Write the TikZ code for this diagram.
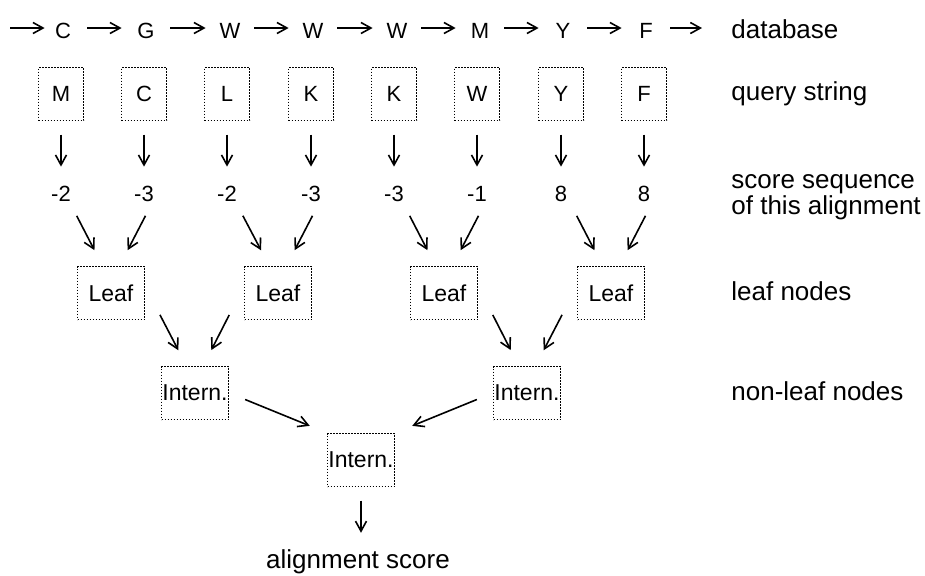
\documentclass[tikz,border=0pt]{standalone}
\usepackage{fontspec}
\setmainfont{Liberation Sans}
\usetikzlibrary{arrows.meta}

\begin{document}
\begin{tikzpicture}[x=0.5pt, y=-0.5pt,
    dbletter/.style={inner sep=0pt, minimum width=24pt, text height=10pt, text depth=0pt, font=\fontsize{11}{13}\selectfont},
    qbox/.style={draw, dash pattern=on 0.7pt off 0.8pt, line width=0.7pt, minimum width=22.5pt, minimum height=26.5pt, inner sep=0pt, font=\fontsize{11}{13}\selectfont},
    nbox/.style={qbox, minimum width=33.5pt, font=\fontsize{11.5}{13}\selectfont},
    score/.style={inner sep=0pt, text height=7pt, text depth=0pt, font=\fontsize{11}{13}\selectfont},
    caption/.style={anchor=base west, inner sep=0pt, font=\fontsize{13}{13}\selectfont, align=left},
    arr/.style={-{Straight Barb[length=5pt,width=5.5pt]}, line width=0.8pt},
    feed/.style={arr, shorten <=12.3pt, shorten >=24.1pt}
]
\useasboundingbox (0,0) rectangle (925,575);

% database sequence
\coordinate (dstart) at (10,28);
\node[dbletter] (d1) at (63,28) {C};
\node[dbletter] (d2) at (146,28) {G};
\node[dbletter] (d3) at (230,28) {W};
\node[dbletter] (d4) at (313,28) {W};
\node[dbletter] (d5) at (397,28) {W};
\node[dbletter] (d6) at (480,28) {M};
\node[dbletter] (d7) at (563,28) {Y};
\node[dbletter] (d8) at (646,28) {F};
\coordinate (dend) at (702,28);

\draw[arr, shorten >=-3pt] (dstart) -- (d1);
\draw[arr] (d1) -- (d2);
\draw[arr] (d2) -- (d3);
\draw[arr] (d3) -- (d4);
\draw[arr] (d4) -- (d5);
\draw[arr] (d5) -- (d6);
\draw[arr] (d6) -- (d7);
\draw[arr] (d7) -- (d8);
\draw[arr] (d8) -- (dend);

% query string
\node[qbox] (q1) at (61,94) {M};
\node[qbox] (q2) at (144,94) {C};
\node[qbox] (q3) at (227,94) {L};
\node[qbox] (q4) at (311,94) {K};
\node[qbox] (q5) at (394,94) {K};
\node[qbox] (q6) at (477,94) {W};
\node[qbox] (q7) at (561,94) {Y};
\node[qbox] (q8) at (644,94) {F};

% scores
\node[score] (s1) at (61,194) {-2};
\node[score] (s2) at (144,194) {-3};
\node[score] (s3) at (227,194) {-2};
\node[score] (s4) at (311,194) {-3};
\node[score] (s5) at (394,194) {-3};
\node[score] (s6) at (477,194) {-1};
\node[score] (s7) at (561,194) {8};
\node[score] (s8) at (644,194) {8};

\draw[arr, shorten <=6.75pt, shorten >=10pt] (q1) -- (s1);
\draw[arr, shorten <=6.75pt, shorten >=10pt] (q2) -- (s2);
\draw[arr, shorten <=6.75pt, shorten >=10pt] (q3) -- (s3);
\draw[arr, shorten <=6.75pt, shorten >=10pt] (q4) -- (s4);
\draw[arr, shorten <=6.75pt, shorten >=10pt] (q5) -- (s5);
\draw[arr, shorten <=6.75pt, shorten >=10pt] (q6) -- (s6);
\draw[arr, shorten <=6.75pt, shorten >=10pt] (q7) -- (s7);
\draw[arr, shorten <=6.75pt, shorten >=10pt] (q8) -- (s8);

% tree
\node[nbox] (L1) at (111,293) {Leaf};
\node[nbox] (L2) at (278,293) {Leaf};
\node[nbox] (L3) at (444,293) {Leaf};
\node[nbox] (L4) at (611,293) {Leaf};
\node[nbox] (I1) at (195,393) {Intern.};
\node[nbox] (I2) at (527,393) {Intern.};
\node[nbox] (R) at (361,460) {Intern.};

\draw[feed] ([xshift=2.2pt]s1.center) -- ([xshift=2.8pt]L1.center);
\draw[feed] ([xshift=6.4pt]s2.center) -- ([xshift=-2.8pt]L1.center);
\draw[feed] ([xshift=2.2pt]s3.center) -- ([xshift=2.8pt]L2.center);
\draw[feed] ([xshift=6.4pt]s4.center) -- ([xshift=-2.8pt]L2.center);
\draw[feed] ([xshift=2.2pt]s5.center) -- ([xshift=2.8pt]L3.center);
\draw[feed] ([xshift=6.4pt]s6.center) -- ([xshift=-2.8pt]L3.center);
\draw[feed] ([xshift=2.2pt]s7.center) -- ([xshift=2.8pt]L4.center);
\draw[feed] ([xshift=6.4pt]s8.center) -- ([xshift=-2.8pt]L4.center);

\draw[feed] ([xshift=18.8pt]L1.center) -- ([xshift=2.8pt]I1.center);
\draw[feed] ([xshift=-18.8pt]L2.center) -- ([xshift=-2.8pt]I1.center);
\draw[feed] ([xshift=18.8pt]L3.center) -- ([xshift=2.8pt]I2.center);
\draw[feed] ([xshift=-18.8pt]L4.center) -- ([xshift=-2.8pt]I2.center);

\draw[arr, shorten <=8.6pt, shorten >=9.2pt] (I1.east) -- (R.north west);
\draw[arr, shorten <=8.6pt, shorten >=9.2pt] (I2.west) -- (R.north east);

\node[caption, anchor=base] (out) at (358,568) {alignment score};
\draw[arr, shorten <=6.75pt, shorten >=8pt] (R) -- (out.north -| R);

% row captions
\node[caption] (cdb) at (731,38) {database};
\node[caption] (cq) at (731,100) {query string};
\node[caption, anchor=west] (cs) at (731,197) {score sequence\\of this alignment};
\node[caption] (cl) at (731,300) {leaf nodes};
\node[caption] (cn) at (731,400) {non-leaf nodes};

\end{tikzpicture}
\end{document}
